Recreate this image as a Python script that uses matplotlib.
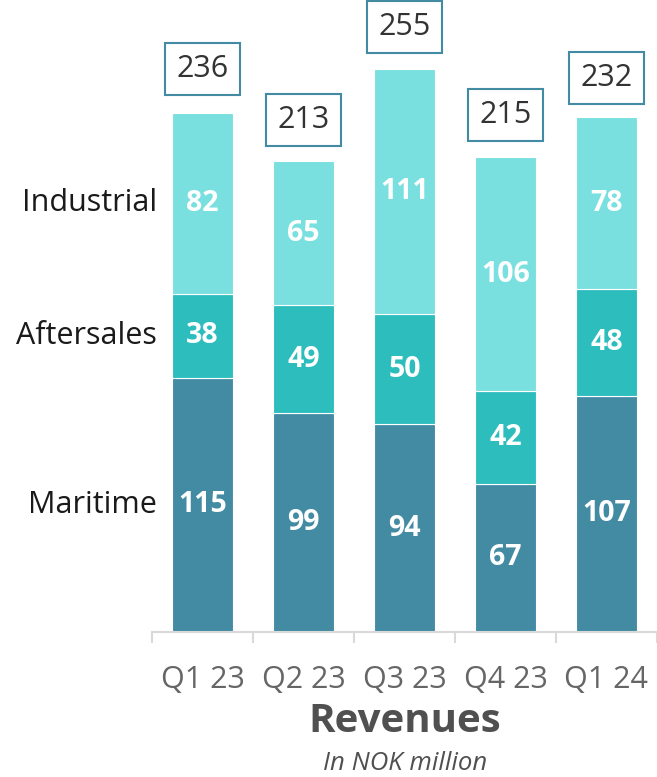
import numpy as np
import matplotlib
matplotlib.use("Agg")
import matplotlib.pyplot as plt

quarters = ["Q1 23", "Q2 23", "Q3 23", "Q4 23", "Q1 24"]
series = ["Maritime", "Aftersales", "Industrial"]
maritime = [115, 99, 94, 67, 107]
aftersales = [38, 49, 50, 42, 48]
industrial = [82, 65, 111, 106, 78]
totals = [236, 213, 255, 215, 232]

colors = ["#428ba3", "#2ebdbd", "#7ae0df"]
plt.rcParams['font.family'] = ['Open Sans', 'DejaVu Sans']

fig = plt.figure(figsize=(6.57, 7.77), dpi=100)
ax = fig.add_axes([152/657, 145/777, 505/657, 632/777])

x = np.arange(len(quarters))
bottom = np.zeros(len(quarters))
for name, vals, col in zip(series, [maritime, aftersales, industrial], colors):
    vals = np.array(vals)
    ax.bar(x, vals, width=0.6, bottom=bottom, color=col, edgecolor="white", linewidth=0.8)
    for xi, b, v in zip(x, bottom, vals):
        ax.text(xi, b + v/2, str(v), ha="center", va="center", color="white",
                fontsize=20.5, fontweight="bold")
    # series name to the left of the first bar
    ax.text(-0.45, bottom[0] + vals[0]/2, name, ha="right", va="center",
            fontsize=22, color="#1a1a1a", clip_on=False)
    bottom = bottom + vals

for xi, t in zip(x, totals):
    ax.annotate(str(t), (xi, t), xytext=(0, 30), textcoords="offset points",
                ha="center", va="center", fontsize=22, color="#333333",
                bbox=dict(boxstyle="square,pad=0.36", fc="white", ec="#428ba3", lw=1.5))

ax.set_xlim(-0.5, 4.5 - 2.5/101.5)
ax.set_ylim(0, 286)
ax.set_xticks(x)
ax.set_xticklabels(quarters, fontsize=22, color="#666666")
ax.set_xticks(np.arange(-0.5, 4.6, 1), minor=True)
ax.tick_params(axis="x", which="major", length=0, pad=24)
ax.tick_params(axis="x", which="minor", length=8, color="#d9d9d9", width=1.5)
ax.set_yticks([])
for s in ["top", "right", "left"]:
    ax.spines[s].set_visible(False)
ax.spines["bottom"].set_color("#d9d9d9")
ax.spines["bottom"].set_linewidth(1.5)

fig.text(405/657, 1 - 722/777, "Revenues", ha="center", va="center",
         fontsize=29, fontweight="bold", color="#505050")
fig.text(405/657, 1 - 763/777, "In NOK million", ha="center", va="center",
         fontsize=18.5, style="italic", color="#505050")

fig.savefig("out.png", dpi=100)
